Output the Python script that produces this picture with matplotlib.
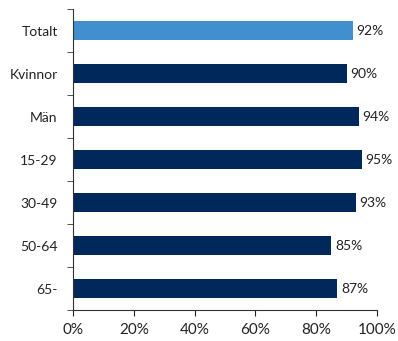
import numpy as np
import matplotlib.pyplot as plt
from matplotlib.ticker import FixedLocator, PercentFormatter

plt.rcParams['font.family'] = ['Lato', 'DejaVu Sans']

categories = ['Totalt', 'Kvinnor', 'Män', '15-29', '30-49', '50-64', '65-']
values = [92, 90, 94, 95, 93, 85, 87]
colors = ['#418FCE'] + ['#00285A'] * 6

fig = plt.figure(figsize=(3.98, 3.41), dpi=100)
ax = fig.add_axes([0.1834, 0.0909, 0.7638, 0.8827])

y = np.arange(len(categories))
bars = ax.barh(y, values, height=0.42, color=colors)
for b, v in zip(bars, values):
    ax.text(b.get_width() + 1.2, b.get_y() + b.get_height() / 2, f'{v}%',
            va='center', ha='left', fontsize=10, color='#222222')

ax.set_ylim(len(categories) - 0.5, -0.5)
ax.set_xlim(0, 100)
ax.set_yticks(y)
ax.set_yticklabels(categories, fontsize=10, color='#222222')
ax.yaxis.set_minor_locator(FixedLocator(np.arange(-0.5, len(categories), 1)))
ax.tick_params(axis='y', which='major', length=0, pad=11)
ax.tick_params(axis='y', which='minor', length=4, direction='out', color='#333333')
ax.set_xticks(np.arange(0, 101, 20))
ax.xaxis.set_major_formatter(PercentFormatter(decimals=0))
ax.tick_params(axis='x', length=4, direction='out', labelsize=11, colors='#222222', pad=5)
for s in ['top', 'right']:
    ax.spines[s].set_visible(False)
ax.spines['left'].set_color('#333333')
ax.spines['bottom'].set_color('#333333')

fig.savefig('out.png', dpi=100)
